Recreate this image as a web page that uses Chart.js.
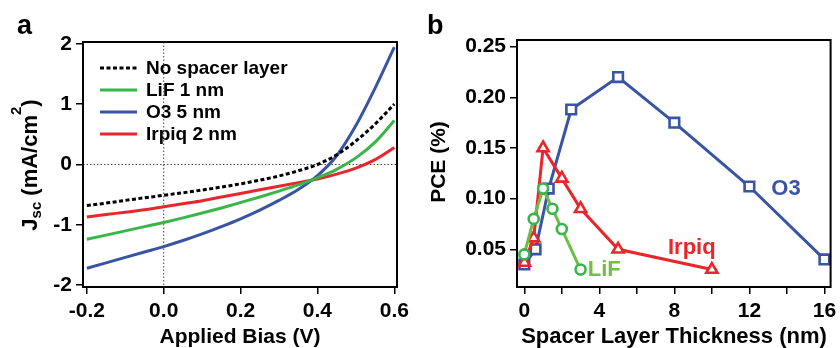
<!DOCTYPE html>
<html>
<head>
<meta charset="utf-8">
<script src="https://cdn.jsdelivr.net/npm/chart.js@4.4.1/dist/chart.umd.min.js"></script>
<style>
  body { margin: 0; background: #fff; }
  #wrap { display: flex; width: 840px; height: 348px; }
  canvas { display: block; }
</style>
</head>
<body>
<div id="wrap">
  <canvas id="grafica-a" width="420" height="348"></canvas>
  <canvas id="grafica-b" width="420" height="348"></canvas>
</div>
<script>
// panel a: J-V curves
const biasV      = [-0.2, -0.15, -0.1, -0.05, 0, 0.05, 0.1, 0.15, 0.2, 0.25, 0.3, 0.35, 0.4, 0.45, 0.5, 0.55, 0.6];
const jNoSpacer  = [-0.68, -0.64, -0.595, -0.552, -0.51, -0.468, -0.423, -0.374, -0.32, -0.26, -0.19, -0.105, 0.0, 0.16, 0.39, 0.67, 1.0];
const jLiF       = [-1.24, -1.17, -1.1, -1.03, -0.96, -0.885, -0.805, -0.72, -0.63, -0.538, -0.441, -0.338, -0.22, -0.08, 0.11, 0.37, 0.73];
const jO3        = [-1.72, -1.63, -1.54, -1.45, -1.36, -1.26, -1.15, -1.03, -0.9, -0.755, -0.595, -0.415, -0.185, 0.145, 0.645, 1.265, 1.945];
const jIrpiq     = [-0.87, -0.83, -0.79, -0.75, -0.7, -0.65, -0.6, -0.54, -0.48, -0.42, -0.36, -0.3, -0.24, -0.16, -0.06, 0.08, 0.28];
const biasTicks  = [-0.2, 0, 0.2, 0.4, 0.6];
const jTicks     = [-2, -1, 0, 1, 2];

// panel b: PCE vs spacer thickness
const thickLiF   = [0, 0.5, 1, 1.5, 2, 3];
const pceLiF     = [0.045, 0.08, 0.11, 0.09, 0.07, 0.03];
const thickIrpiq = [0, 0.5, 1, 2, 3, 5, 10];
const pceIrpiq   = [0.037, 0.061, 0.15, 0.12, 0.09, 0.05, 0.03];
const thickO3    = [0, 0.6, 1.3, 2.5, 5, 8, 12, 16];
const pceO3      = [0.035, 0.05, 0.11, 0.188, 0.22, 0.175, 0.112, 0.04];
const thickTicks = [0, 2, 4, 6, 8, 10, 12, 14, 16];
const pceTicks   = [0.05, 0.10, 0.15, 0.20, 0.25];

const FUENTE = '"Liberation Sans", Arial, Helvetica, sans-serif';
const AZUL = '#3a54a4', ROJO = '#e8262b', VERDE = '#39b54a', VERDE_B = '#6dbe45';

const pares = (xs, ys) => xs.map((x, i) => ({ x: x, y: ys[i] }));
const fuente = (size) => ({ family: FUENTE, weight: 'bold', size: size });

function ejes(ticks, fmt, esX, tam) {
    return {
        type: 'linear',
        afterBuildTicks: s => { s.ticks = ticks.map(v => ({ value: v })); },
        afterFit: s => {
            if (esX) { s.height = tam; s.paddingLeft = 0; s.paddingRight = 0; }
            else { s.width = tam; s.paddingTop = 0; s.paddingBottom = 0; }
        },
        ticks: { callback: fmt, color: '#000', font: fuente(21), padding: esX ? 5 : 4, autoSkip: false, maxRotation: 0 },
        grid: { drawOnChartArea: false, drawTicks: true, tickLength: 7, color: '#000', lineWidth: 1.5 },
        border: { display: false }
    };
}

function marco(ctx, ca) {
    ctx.save();
    ctx.strokeStyle = '#000';
    ctx.lineWidth = 2;
    ctx.setLineDash([]);
    ctx.strokeRect(ca.left, ca.top, ca.right - ca.left, ca.bottom - ca.top);
    ctx.restore();
}

// texto rotado en partes (para subindices / superindices)
function tituloY(ctx, cx, cy, partes) {
    ctx.save();
    ctx.translate(cx, cy);
    ctx.rotate(-Math.PI / 2);
    ctx.fillStyle = '#000';
    ctx.textBaseline = 'alphabetic';
    ctx.textAlign = 'left';
    let total = 0;
    partes.forEach(p => { ctx.font = 'bold ' + p.size + 'px ' + FUENTE; p.w = ctx.measureText(p.t).width; total += p.w; });
    let x = -total / 2;
    partes.forEach(p => {
        ctx.font = 'bold ' + p.size + 'px ' + FUENTE;
        ctx.fillText(p.t, x, p.dy);
        x += p.w;
    });
    ctx.restore();
}

function texto(ctx, t, x, y, size, color, align, base) {
    ctx.save();
    ctx.font = 'bold ' + size + 'px ' + FUENTE;
    ctx.fillStyle = color;
    ctx.textAlign = align || 'center';
    ctx.textBaseline = base || 'alphabetic';
    ctx.fillText(t, x, y);
    ctx.restore();
}

const extrasA = {
    id: 'extrasA',
    beforeDatasetsDraw(chart) {
        const { ctx, chartArea: ca, scales: { x, y } } = chart;
        const x0 = x.getPixelForValue(0), y0 = y.getPixelForValue(0);
        ctx.save();
        ctx.strokeStyle = '#444';
        ctx.lineWidth = 1;
        ctx.setLineDash([1.5, 2]);
        ctx.beginPath();
        ctx.moveTo(x0, ca.top); ctx.lineTo(x0, ca.bottom);
        ctx.moveTo(ca.left, y0); ctx.lineTo(ca.right, y0);
        ctx.stroke();
        ctx.restore();
    },
    afterDraw(chart) {
        const { ctx, chartArea: ca } = chart;
        marco(ctx, ca);
        // leyenda
        chart.data.datasets.forEach((d, i) => {
            const fy = 68 + i * 22;
            ctx.save();
            ctx.strokeStyle = d.borderColor;
            ctx.lineWidth = 3;
            ctx.setLineDash(d.borderDash || []);
            ctx.beginPath();
            ctx.moveTo(100, fy); ctx.lineTo(137, fy);
            ctx.stroke();
            ctx.restore();
            texto(ctx, d.label, 146, fy + 1, 19, '#000', 'left', 'middle');
        });
        texto(ctx, 'a', 17, 34, 27, '#000', 'left');
        texto(ctx, 'Applied Bias (V)', 240, 343, 21, '#000');
        tituloY(ctx, 29, 165, [
            { t: 'J', size: 22, dy: 8 },
            { t: 'sc', size: 15, dy: 12 },
            { t: ' (mA/cm', size: 22, dy: 8 },
            { t: '2', size: 15, dy: -8 },
            { t: ')', size: 22, dy: 8 }
        ]);
    }
};

const extrasB = {
    id: 'extrasB',
    afterDraw(chart) {
        const { ctx, chartArea: ca, scales: { x, y } } = chart;
        marco(ctx, ca);
        texto(ctx, 'b', 7, 34, 27, '#000', 'left');
        texto(ctx, 'Spacer Layer Thickness (nm)', 254, 343, 22, '#000');
        tituloY(ctx, 17, 162, [{ t: 'PCE (%)', size: 21, dy: 8 }]);
        texto(ctx, 'O3', x.getPixelForValue(13.95), y.getPixelForValue(0.1095), 22, AZUL, 'center', 'middle');
        texto(ctx, 'Irpiq', x.getPixelForValue(8.93), y.getPixelForValue(0.0513), 22, ROJO, 'center', 'middle');
        texto(ctx, 'LiF', x.getPixelForValue(3.38), y.getPixelForValue(0.0296), 22, '#72bf44', 'left', 'middle');
    }
};

const curva = (label, xs, ys, color, dash) => ({
    label: label,
    data: pares(xs, ys),
    borderColor: color,
    borderWidth: 3,
    borderDash: dash,
    pointRadius: 0,
    showLine: true,
    cubicInterpolationMode: 'monotone',
    fill: false
});

new Chart(document.getElementById('grafica-a').getContext('2d'), {
    type: 'scatter',
    data: {
        datasets: [
            curva('No spacer layer', biasV, jNoSpacer, '#000', [4, 2.5]),
            curva('LiF 1 nm', biasV, jLiF, VERDE),
            curva('O3 5 nm', biasV, jO3, AZUL),
            curva('Irpiq 2 nm', biasV, jIrpiq, ROJO)
        ]
    },
    options: {
        responsive: false,
        animation: false,
        devicePixelRatio: 1,
        layout: { padding: { left: 0, top: 42, right: 23, bottom: 0 } },
        scales: {
            x: Object.assign(ejes(biasTicks, v => Number(v).toFixed(1), true, 61), { min: -0.21, max: 0.607 }),
            y: Object.assign(ejes(jTicks, v => String(v), false, 83), { min: -2.03, max: 2.03 })
        },
        plugins: { legend: { display: false }, tooltip: { enabled: false } }
    },
    plugins: [extrasA]
});

const serie = (label, xs, ys, color, lineColor, estilo, radio) => ({
    label: label,
    data: pares(xs, ys),
    borderColor: lineColor,
    borderWidth: 3,
    pointStyle: estilo,
    pointRadius: radio,
    pointBorderColor: color,
    pointBackgroundColor: '#fff',
    pointBorderWidth: 2.6,
    showLine: true,
    tension: 0,
    fill: false
});

new Chart(document.getElementById('grafica-b').getContext('2d'), {
    type: 'scatter',
    data: {
        datasets: [
            serie('LiF', thickLiF, pceLiF, VERDE, VERDE_B, 'circle', 5),
            serie('Irpiq', thickIrpiq, pceIrpiq, ROJO, ROJO, 'triangle', 6.5),
            serie('O3', thickO3, pceO3, AZUL, AZUL, 'rect', 6.8)
        ]
    },
    options: {
        responsive: false,
        animation: false,
        devicePixelRatio: 1,
        layout: { padding: { left: 0, top: 40, right: 7, bottom: 0 } },
        scales: {
            x: Object.assign(ejes(thickTicks, v => (v % 4 === 0 ? String(v) : ''), true, 61), { min: -0.39, max: 16.33 }),
            y: Object.assign(ejes(pceTicks, v => Number(v).toFixed(2), false, 97), { min: 0.0128, max: 0.2566 })
        },
        plugins: { legend: { display: false }, tooltip: { enabled: false } }
    },
    plugins: [extrasB]
});
</script>
</body>
</html>
